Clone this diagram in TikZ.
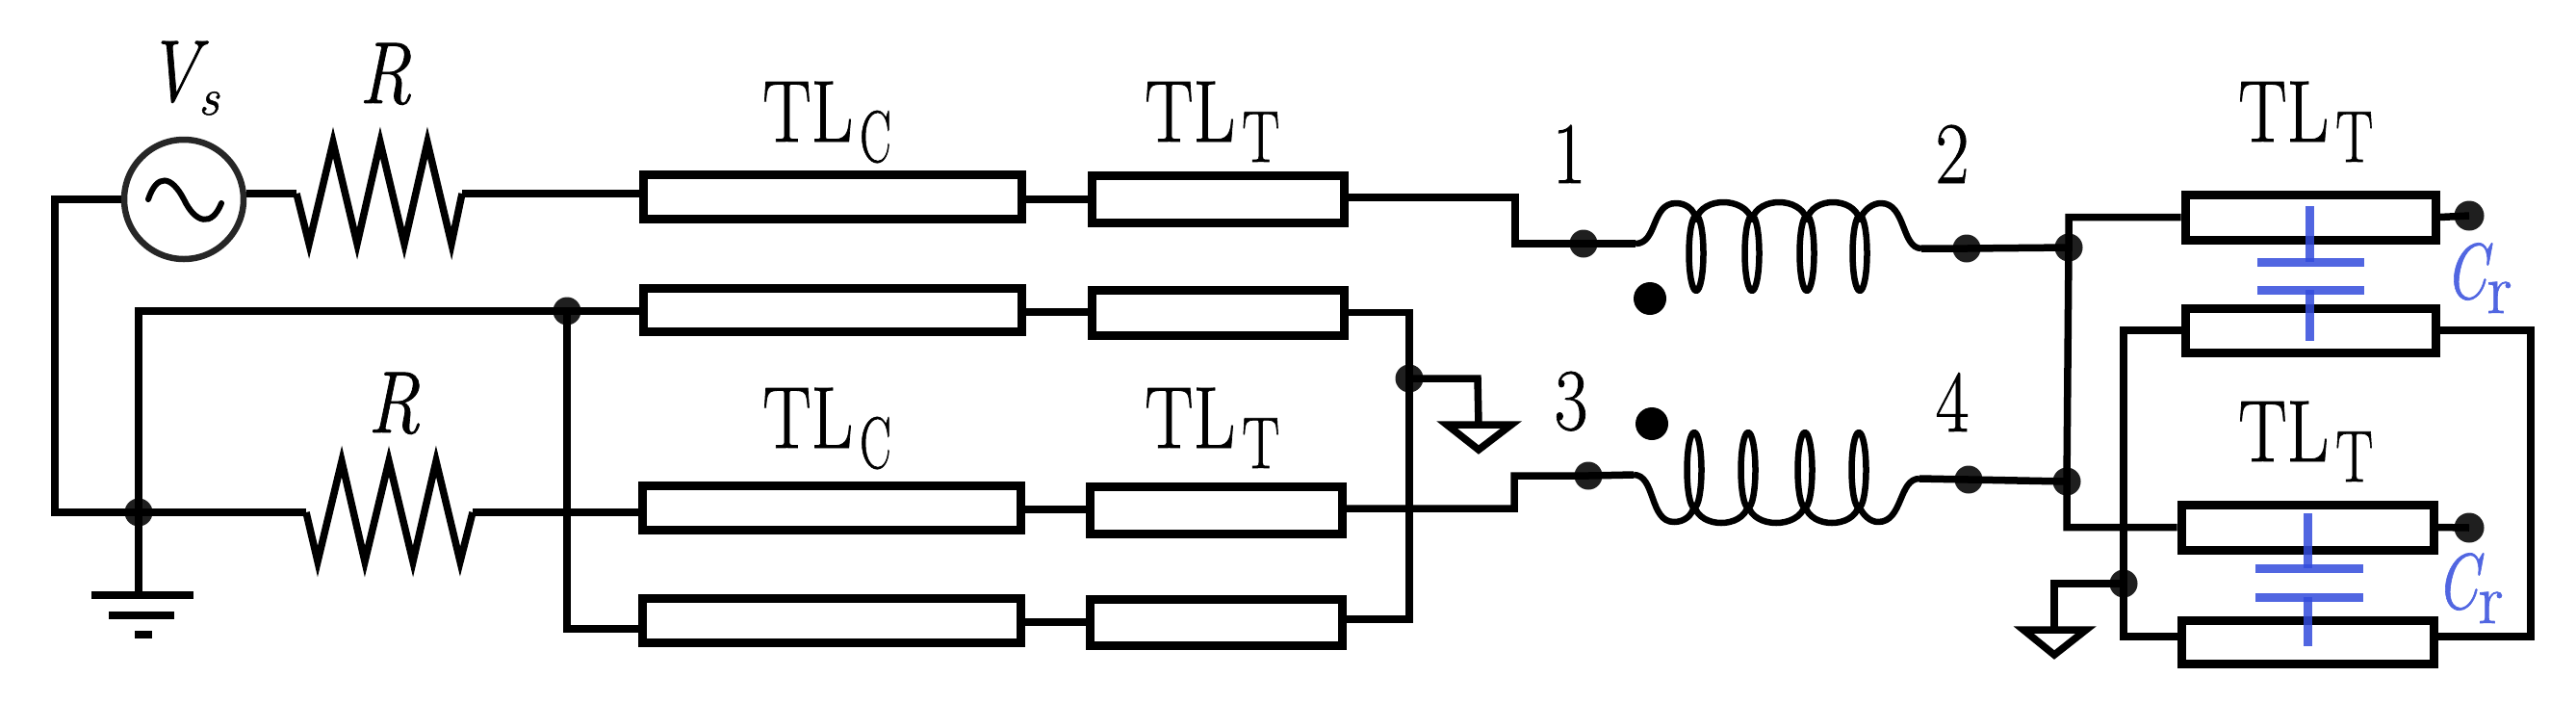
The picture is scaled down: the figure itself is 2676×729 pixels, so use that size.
\documentclass[tikz,border=0pt]{standalone}
\usepackage{fontspec}
\setmainfont{Latin Modern Roman}[FakeBold=0.9]
\usetikzlibrary{calc}
\definecolor{capblue}{RGB}{50,75,220}
\newcommand{\bigfont}{\fontsize{91}{91}\selectfont}
\newcommand{\subfont}{\fontsize{76}{76}\selectfont}
\newcommand{\squeezed}[1]{\scalebox{.83}[1]{#1}}
\newcommand{\TLlabel}[2]{\squeezed{TL}\kern7pt\raisebox{-21pt}{\scalebox{#2}[1]{\subfont #1}}}
\tikzset{
  wire/.style={line width=7.5pt,line join=miter,line cap=butt},
  coilwire/.style={line width=6.5pt,line join=round},
  tlbox/.style={draw,line width=9pt,rectangle,inner sep=0pt,minimum width=#1},
  tlbox/.default=100pt,
  joint/.style={circle,fill=black!88,inner sep=0pt,minimum size=29pt},
  bigdot/.style={circle,fill=black,inner sep=0pt,minimum size=34pt},
  lbl/.style={inner sep=0pt,font=\bigfont},
  capwire/.style={line width=9pt,draw=capblue,draw opacity=.85},
  caplabel/.style={inner sep=0pt,text=capblue!85!white},
}
\begin{document}
\begin{tikzpicture}[x=1pt,y=-1pt]
\useasboundingbox (0,0) rectangle (2676,729);
% source
\node[circle,draw=black!85,line width=6.5pt,minimum size=124pt,inner sep=0pt] (src) at (191,207) {};
\draw[line width=6pt,line cap=round] (154,207) .. controls (163,180) and (178,182) .. (191,207) .. controls (203,232) and (220,236) .. (230,211);
% transmission-line boxes
\foreach \n/\cx/\cy/\w/\h in {
 ca/864.5/204/393/46, ta/1265/206.5/262/49,
 cb/864.5/321.5/393/45, tb/1265/324.5/262/47,
 cc/863.5/527/393/46, tc/1263/529.5/262/49,
 cd/863.5/644/393/46, td/1263/646/262/48,
 ra/2400/225.5/260/47, rb/2400/343/260/46,
 rc/2397/547.5/262/47, rd/2397/666.5/262/45}{
 \node[tlbox=\w pt,minimum height=\h pt] (\n) at (\cx,\cy) {};
}
% resistors
\coordinate (r1a) at (308,201); \coordinate (r1b) at (480,201);
\coordinate (r2a) at (318,532); \coordinate (r2b) at (491,532);
\draw[wire,miter limit=20] (r1a) -- (321,253) -- (346,148) -- (371,253) -- (395,148) -- (420,253) -- (444,148) -- (469,253) -- (r1b);
\draw[wire,miter limit=20] (r2a) -- (330,583) -- (355,479) -- (379,583) -- (404,479) -- (429,583) -- (453,479) -- (478,583) -- (r2b);
% junctions
\node[joint] (jtop) at (589,323) {};
\node[joint] (jgnd) at (144,532) {};
\node[joint] (jrg) at (1464,393) {};
\node[joint] (n1) at (1645,253) {};
\node[joint] (n2) at (2043,258) {};
\node[joint] (n3) at (1650,494) {};
\node[joint] (n4) at (2045,498) {};
\node[joint] (ja) at (2149,257) {};
\node[joint] (jb) at (2147,500) {};
\node[joint] (jc) at (2206,606) {};
\node[joint,minimum size=31pt] (enda) at (2565,224) {};
\node[joint,minimum size=31pt] (endc) at (2565,548) {};
% coupling dots
\node[bigdot] (dot1) at (1714,310) {};
\node[bigdot] (dot2) at (1716,440) {};
% free coordinates
\coordinate (c1s) at (1699,253); \coordinate (c1e) at (1996,258);
\coordinate (c2s) at (1697,493); \coordinate (c2e) at (1994,497);
\coordinate (g1) at (144,618);
\coordinate (tg1) at (1536,441);
\coordinate (tg2) at (2134,654);
% left part wires
\draw[wire] (src.west) -- (57,207) |- (jgnd.center) -- (r2a);
\draw[wire] (src.east|-r1a) -- (r1a);
\draw[wire] (r1b) -- (ca.west|-r1b);
\draw[wire] (jgnd.center) -- (g1);
\draw[wire] (jgnd.center) -- (144,323) -- (jtop.center) -- (cb.west|-jtop.center);
\draw[wire] (jtop.center) -- (589,653) -- (cd.west|-0,653);
\draw[wire] (r2b) -- (cc.west|-r2b);
\draw[wire] (ca.east|-0,207) -- (ta.west|-0,207);
\draw[wire] (cb.east|-0,324) -- (tb.west|-0,324);
\draw[wire] (cc.east|-0,529) -- (tc.west|-0,529);
\draw[wire] (cd.east|-0,646) -- (td.west|-0,646);
% ground 1
\draw[wire] (95,618) -- (201,618);
\draw[wire] (113,639) -- (181,639);
\draw[wire] (140,659) -- (158,659);
% middle wires
\draw[wire] (ta.east|-0,205) -- (1574,205) |- (n1.center) -- (c1s);
\draw[wire] (tb.east) -| (jrg.center) -- (1464,643) -- (td.east|-0,643);
\draw[wire] (jrg.center) -- (1535,393) -- (tg1);
\draw[wire,line join=miter] (1503,441) -- (1570,441) -- (1536,467) -- cycle;
\draw[wire] (tc.east|-0,528) -- (1573,528) |- (n3.center) -- (c2s);
% upper coil
\draw[coilwire] (c1s) .. controls (1722,253) and (1715,211) .. (1741,211) .. controls (1752,211) and (1760,218) .. (1762,228)
  .. controls (1768,204) and (1812,204) .. (1820,228) .. controls (1826,204) and (1870,204) .. (1877,228)
  .. controls (1883,204) and (1925,204) .. (1932,228) .. controls (1936,218) and (1945,211) .. (1954,211)
  .. controls (1980,211) and (1975,258) .. (c1e);
\foreach \x in {1762,1820,1877,1932}{\draw[coilwire] (\x,263) ellipse[x radius=7.5,y radius=39];}
% lower coil
\draw[coilwire] (c2s) .. controls (1720,493) and (1713,542) .. (1739,542) .. controls (1750,542) and (1758,535) .. (1760,525)
  .. controls (1766,549) and (1810,549) .. (1816,525) .. controls (1822,549) and (1868,549) .. (1875,525)
  .. controls (1881,549) and (1925,549) .. (1931,525) .. controls (1935,535) and (1943,542) .. (1951,542)
  .. controls (1977,542) and (1972,497) .. (c2e);
\foreach \x in {1760,1816,1875,1931}{\draw[coilwire] (\x,488) ellipse[x radius=7.5,y radius=39];}
% right part wires
\draw[wire] (c1e) -- (n2.center) -- (ja.center);
\draw[wire] (c2e) -- (n4.center) -- (jb.center);
\draw[wire] (ra.west) -| (ja.center) -- (jb.center) |- (rc.west);
\draw[wire] (ra.east) -- (enda.center);
\draw[wire] (rc.east) -- (endc.center);
\draw[wire] (rb.west) -| (jc.center) |- (rd.west|-0,661);
\draw[wire] (rb.east) -- (2629,343) |- (rd.east|-0,661);
\draw[wire] (jc.center) -- (2134,606) -- (tg2);
\draw[wire,line join=miter] (2102,654) -- (2167,654) -- (2134,680) -- cycle;
% capacitors
\draw[capwire] (2399,214) -- (2399,272);
\draw[capwire] (2345,272) -- (2456,272);
\draw[capwire] (2345,301) -- (2456,301);
\draw[capwire] (2399,301) -- (2399,354);
\draw[capwire] (2397,533) -- (2397,590);
\draw[capwire] (2343,590) -- (2455,590);
\draw[capwire] (2343,620) -- (2455,620);
\draw[capwire] (2397,620) -- (2397,671);
% labels
\node[lbl,anchor=base west] (lvs) at (152,105) {\squeezed{\itshape V}\kern-1pt\raisebox{-14pt}{\fontsize{54}{54}\selectfont\itshape s}};
\node[lbl,anchor=base west] (lr1) at (373,107) {\squeezed{\itshape R}};
\node[lbl,anchor=base west] (lr2) at (382,449) {\squeezed{\itshape R}};
\node[lbl,anchor=base west] (lca) at (792,147) {\TLlabel{C}{.64}};
\node[lbl,anchor=base west] (lta) at (1189,147) {\TLlabel{T}{.77}};
\node[lbl,anchor=base west] (lcc) at (792,465) {\TLlabel{C}{.64}};
\node[lbl,anchor=base west] (ltc) at (1189,465) {\TLlabel{T}{.77}};
\node[lbl,anchor=base west] (lra) at (2325,147) {\TLlabel{T}{.77}};
\node[lbl,anchor=base west] (lrc) at (2325,479) {\TLlabel{T}{.77}};
\node[lbl,anchor=base] (l1) at (1630,190) {\squeezed{1}};
\node[lbl,anchor=base] (l2) at (2028,190) {\squeezed{2}};
\node[lbl,anchor=base] (l3) at (1632,446) {\squeezed{3}};
\node[lbl,anchor=base] (l4) at (2028,448) {\squeezed{4}};
\node[caplabel,anchor=base west] (lc1) at (2540,310) {\scalebox{.75}[1]{\fontsize{82}{82}\selectfont\itshape C}\raisebox{-15pt}{\fontsize{74}{74}\selectfont r}};
\node[caplabel,anchor=base west] (lc2) at (2531,632) {\scalebox{.75}[1]{\fontsize{82}{82}\selectfont\itshape C}\raisebox{-15pt}{\fontsize{74}{74}\selectfont r}};
\end{tikzpicture}
\end{document}
